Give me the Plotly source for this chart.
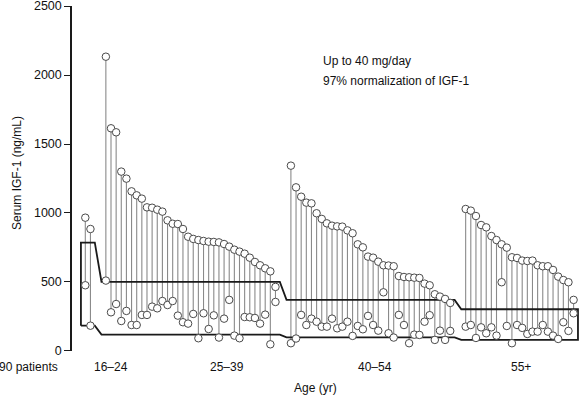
import plotly.graph_objects as go

# ---------------- data ----------------
# patients per age band (first small band = youngest, with its own normal range)
group_sizes = [2, 34, 32, 22]
# IGF-1 normal range per band (ng/mL)
normal_upper = [785, 500, 370, 302]
normal_lower = [183, 118, 98, 80]

# baseline (pre-treatment) serum IGF-1, ng/mL, per patient
baseline = [
    966, 884,
    2133, 1614, 1585, 1300, 1249, 1157, 1128, 1104, 1041, 1038, 1024, 1010,
    947, 922, 920, 884, 828, 812, 804, 797, 792, 790, 787, 775, 756, 734,
    720, 705, 676, 645, 621, 599, 577, 464,
    1343, 1186, 1118, 1075, 1070, 998, 957, 925, 908, 903, 901, 874, 853,
    773, 751, 684, 676, 647, 621, 619, 614, 543, 536, 534, 531, 529, 488,
    476, 411, 394, 377, 348,
    1029, 1017, 978, 913, 896, 833, 804, 773, 749, 679, 674, 655, 652, 655,
    621, 614, 614, 587, 539, 514, 498, 370,
]
# on-treatment serum IGF-1, ng/mL, per patient
treated = [
    476, 183,
    510, 280, 340, 217, 290, 188, 188, 261, 261, 321, 309, 362,
    333, 362, 256, 208, 198, 268, 92, 273, 159, 258, 97, 234, 370, 111,
    92, 246, 244, 239, 198, 263, 48, 355,
    56, 90, 261, 188, 234, 212, 176, 176, 234, 164, 176, 212, 109,
    181, 157, 254, 188, 147, 425, 128, 97, 261, 188, 56, 118, 116, 212,
    259, 80, 147, 80, 145,
    176, 188, 94, 171, 128, 171, 111, 498, 181, 56, 188, 167, 123, 140,
    140, 188, 140, 111, 87, 208, 145, 273,
]

y_ticks = [0, 500, 1000, 1500, 2000, 2500]
age_labels = ["16\u201324", "25\u201339", "40\u201354", "55+"]
count_label = "90 patients"
y_title = "Serum IGF-1 (ng/mL)"
x_title = "Age (yr)"
note_lines = ["Up to 40 mg/day", "97% normalization of IGF-1"]

# ---------------- layout helpers ----------------
GAP = 2  # empty slots between bands
slots = []
group_ranges = []
s = 1
for gi, n in enumerate(group_sizes):
    first = s
    for _ in range(n):
        slots.append(s)
        s += 1
    group_ranges.append((first, s - 1))
    s += GAP

# band polygon (upper edge left->right, lower edge right->left)
ux, uy, lx, ly = [], [], [], []
for (a, b), up, lo in zip(group_ranges, normal_upper, normal_lower):
    ux += [a - 0.85, b + 0.85]
    uy += [up, up]
    lx += [a - 0.85, b + 0.85]
    ly += [lo, lo]
band_x = [lx[0]] + ux + lx[::-1]
band_y = [ly[0]] + uy + ly[::-1]

stem_x, stem_y = [], []
for x, t, b in zip(slots, baseline, treated):
    stem_x += [x, x, None]
    stem_y += [t, b, None]

FONT = "Liberation Sans, Arial, Helvetica, sans-serif"

fig = go.Figure()
fig.add_trace(go.Scatter(x=stem_x, y=stem_y, mode="lines",
                         line=dict(color="#8a8a8a", width=1.1),
                         hoverinfo="skip", showlegend=False))
fig.add_trace(go.Scatter(x=band_x, y=band_y, mode="lines",
                         line=dict(color="#1a1a1a", width=1.8),
                         hoverinfo="skip", showlegend=False))
fig.add_trace(go.Scatter(x=slots + slots, y=baseline + treated, mode="markers",
                         marker=dict(symbol="circle", size=7.5, color="white",
                                     line=dict(color="#4a4a4a", width=1)),
                         showlegend=False))

# plot-area geometry (pixels) used for placing text
L, R, T, B = 72, 0, 6, 44
W, H = 580, 395
pw, ph = W - L - R, H - T - B
slot_px = 5.14
x0_px = 85.3
x_lo = 1 + (L - x0_px) / slot_px
x_hi = 1 + (W - R - x0_px) / slot_px


def px_x(px):
    return (px - L) / pw


def px_y(py):
    return (H - B - py) / ph


ann = []
label_centers = [111, 226.7, 375, 521]
for lab, cx in zip(age_labels, label_centers):
    ann.append(dict(x=px_x(cx), y=px_y(367), xref="paper", yref="paper",
                    text=lab, showarrow=False, xanchor="center", yanchor="middle"))
ann.append(dict(x=px_x(60), y=px_y(367), xref="paper", yref="paper",
                text=count_label, showarrow=False, xanchor="right", yanchor="middle"))
ann.append(dict(x=px_x(315), y=px_y(388), xref="paper", yref="paper",
                text=x_title, showarrow=False, xanchor="center", yanchor="middle"))
ann.append(dict(x=px_x(16.5), y=px_y(173.5), xref="paper", yref="paper",
                text=y_title, showarrow=False, textangle=-90,
                xanchor="center", yanchor="middle"))
for i, line in enumerate(note_lines):
    ann.append(dict(x=px_x(320.5), y=px_y(61 + 19.5 * i), xref="paper", yref="paper",
                    text=line, showarrow=False, xanchor="left", yanchor="middle"))

fig.update_layout(
    width=W, height=H,
    margin=dict(l=L, r=R, t=T, b=B, pad=0),
    paper_bgcolor="white", plot_bgcolor="white",
    font=dict(family=FONT, size=12, color="#111111"),
    showlegend=False,
    annotations=ann,
    xaxis=dict(range=[x_lo, x_hi], showgrid=False, zeroline=False,
               showline=False, showticklabels=False, ticks=""),
    yaxis=dict(range=[-0.5, 2500.5], tickvals=y_ticks,
               showgrid=False, zeroline=False, showline=True,
               linecolor="#1a1a1a", linewidth=1.5, ticks="outside",
               ticklen=6, tickwidth=1.2, tickcolor="#1a1a1a",
               ticklabeloverflow="allow",
               tickfont=dict(family=FONT, size=12.5, color="#111111")),
)

fig.write_html("out.html",
               config={"displayModeBar": False},
               post_script="document.body.style.margin='0';"
                           "document.body.style.padding='0';")
